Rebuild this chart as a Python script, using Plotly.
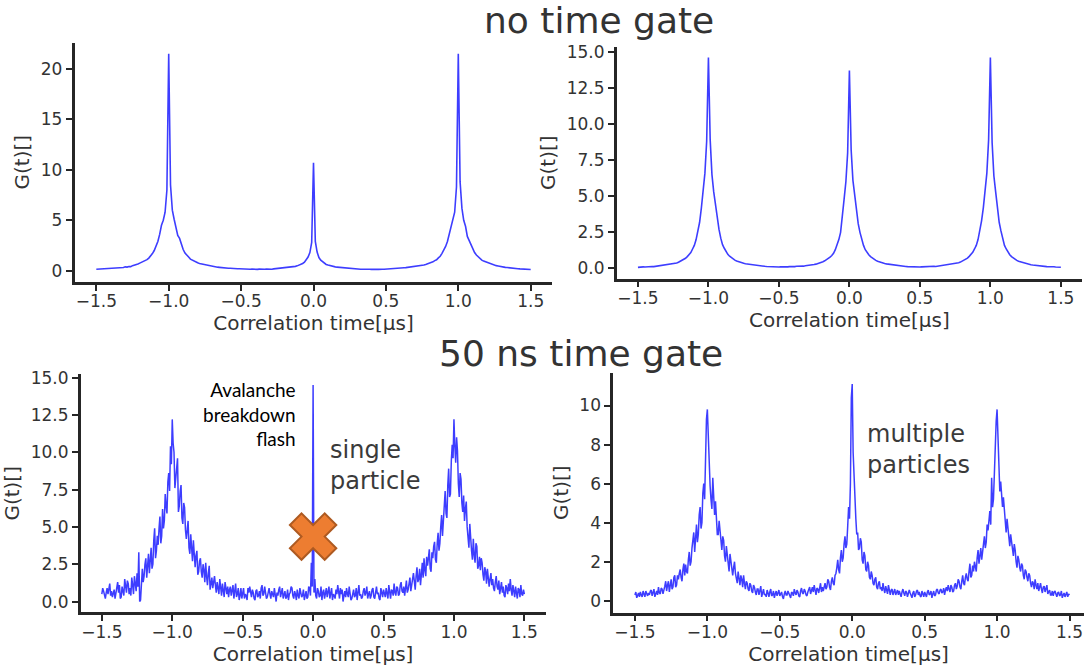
import numpy as np
import plotly.graph_objects as go

W, H = 1086, 669

# correlation time grids in microseconds
t_us = np.round(-1.5 + 0.0125 * np.arange(241), 4)      # 12.5 ns bins (no gate)
t_fine = np.round(-1.5 + 0.00625 * np.arange(481), 5)   # 6.25 ns bins (50 ns gate)

# ---- no time gate, left panel ----
g_nogate_left = [
    0.15, 0.16, 0.14, 0.18, 0.17, 0.2, 0.19, 0.22,
    0.25, 0.23, 0.27, 0.26, 0.3, 0.28, 0.33, 0.31,
    0.38, 0.36, 0.42, 0.4, 0.5, 0.53, 0.6, 0.66,
    0.75, 0.82, 0.9, 0.98, 1.1, 1.25, 1.45, 1.7,
    2.0, 2.4, 2.9, 3.6, 4.5, 5.0, 5.8, 8.0,
    21.5, 8.5, 6.0, 5.1, 4.3, 3.5, 3.2, 2.6,
    2.1, 1.75, 1.5, 1.35, 1.15, 1.05, 0.92, 0.85,
    0.78, 0.72, 0.68, 0.6, 0.56, 0.52, 0.5, 0.45,
    0.42, 0.4, 0.37, 0.35, 0.33, 0.3, 0.31, 0.27,
    0.26, 0.24, 0.25, 0.22, 0.2, 0.22, 0.19, 0.2,
    0.18, 0.16, 0.19, 0.15, 0.17, 0.14, 0.16, 0.13,
    0.15, 0.13, 0.16, 0.14, 0.12, 0.15, 0.16, 0.14,
    0.17, 0.15, 0.18, 0.2, 0.19, 0.22, 0.21, 0.25,
    0.27, 0.3, 0.29, 0.33, 0.36, 0.4, 0.43, 0.48,
    0.55, 0.62, 0.72, 0.85, 1.05, 1.35, 1.8, 2.8,
    10.7, 2.9, 1.85, 1.3, 1.05, 0.88, 0.75, 0.62,
    0.56, 0.5, 0.45, 0.41, 0.38, 0.35, 0.33, 0.3,
    0.28, 0.26, 0.24, 0.23, 0.2, 0.21, 0.18, 0.19,
    0.16, 0.17, 0.14, 0.15, 0.13, 0.15, 0.12, 0.14,
    0.13, 0.15, 0.12, 0.14, 0.13, 0.11, 0.14, 0.15,
    0.17, 0.19, 0.18, 0.21, 0.2, 0.23, 0.22, 0.25,
    0.27, 0.28, 0.3, 0.31, 0.33, 0.34, 0.36, 0.38,
    0.4, 0.42, 0.45, 0.48, 0.52, 0.56, 0.62, 0.68,
    0.74, 0.83, 0.88, 1.0, 1.08, 1.27, 1.43, 1.72,
    2.0, 2.4, 2.9, 3.6, 4.5, 5.0, 5.8, 8.3,
    21.5, 8.8, 6.2, 5.0, 4.4, 3.4, 3.0, 2.5,
    2.1, 1.8, 1.55, 1.35, 1.2, 1.05, 0.95, 0.88,
    0.8, 0.72, 0.66, 0.6, 0.55, 0.5, 0.47, 0.42,
    0.4, 0.36, 0.33, 0.31, 0.28, 0.26, 0.24, 0.23,
    0.21, 0.2, 0.18, 0.17, 0.16, 0.15, 0.14, 0.13,
    0.12,
]

# ---- no time gate, right panel ----
g_nogate_right = [
    0.08, 0.1, 0.09, 0.11, 0.1, 0.12, 0.11, 0.13,
    0.14, 0.13, 0.15, 0.16, 0.15, 0.18, 0.19, 0.2,
    0.23, 0.24, 0.26, 0.29, 0.31, 0.35, 0.38, 0.43,
    0.5, 0.55, 0.62, 0.71, 0.82, 0.95, 1.1, 1.35,
    1.6, 2.0, 2.6, 3.2, 4.2, 5.4, 6.6, 8.8,
    14.6, 8.9, 6.5, 5.3, 4.3, 3.3, 2.7, 2.1,
    1.65, 1.4, 1.15, 0.98, 0.85, 0.74, 0.65, 0.58,
    0.52, 0.47, 0.43, 0.4, 0.36, 0.33, 0.31, 0.28,
    0.26, 0.24, 0.22, 0.21, 0.19, 0.18, 0.17, 0.16,
    0.15, 0.14, 0.13, 0.14, 0.12, 0.13, 0.11, 0.12,
    0.1, 0.12, 0.11, 0.1, 0.12, 0.11, 0.13, 0.12,
    0.14, 0.13, 0.15, 0.14, 0.16, 0.17, 0.16, 0.19,
    0.2, 0.22, 0.21, 0.25, 0.27, 0.3, 0.33, 0.37,
    0.42, 0.47, 0.53, 0.6, 0.68, 0.78, 0.9, 1.05,
    1.3, 1.6, 2.0, 2.5, 3.5, 4.8, 6.0, 8.0,
    13.7, 8.2, 6.1, 5.0, 4.0, 3.1, 2.5, 2.0,
    1.6, 1.3, 1.1, 0.95, 0.82, 0.72, 0.63, 0.56,
    0.5, 0.45, 0.41, 0.38, 0.35, 0.32, 0.3, 0.27,
    0.25, 0.23, 0.22, 0.2, 0.19, 0.17, 0.16, 0.15,
    0.14, 0.13, 0.12, 0.13, 0.11, 0.12, 0.1, 0.11,
    0.1, 0.11, 0.12, 0.1, 0.12, 0.13, 0.12, 0.14,
    0.15, 0.14, 0.16, 0.17, 0.16, 0.19, 0.2, 0.21,
    0.23, 0.25, 0.27, 0.3, 0.32, 0.36, 0.4, 0.44,
    0.5, 0.56, 0.63, 0.72, 0.84, 0.97, 1.12, 1.35,
    1.6, 2.0, 2.6, 3.3, 4.2, 5.4, 6.6, 8.9,
    14.6, 8.7, 6.4, 5.3, 4.2, 3.2, 2.6, 2.0,
    1.6, 1.35, 1.1, 0.95, 0.82, 0.72, 0.63, 0.56,
    0.5, 0.46, 0.41, 0.38, 0.34, 0.31, 0.29, 0.26,
    0.24, 0.22, 0.2, 0.19, 0.17, 0.16, 0.15, 0.14,
    0.13, 0.12, 0.13, 0.11, 0.12, 0.1, 0.11, 0.1,
    0.09,
]

# ---- 50 ns time gate, single particle ----
g_gate_single = [
    0.5, 0.9, 0.7, 0.3, 0.2, 0.6, 0.9, 0.5, 1.0, 1.2, 0.4, 0.7, 0.3, 0.6, 0.8, 0.2,
    0.5, 0.9, 1.3, 0.6, 1.1, 0.2, 0.3, 1.0, 0.7, 0.4, 1.5, 0.9, 0.6, 1.4, 1.2, 0.5,
    0.9, 0.4, 1.6, 1.1, 0.5, 1.7, 1.2, 0.7, 1.9, 1.0, 3.3, 0.0, 0.1, 1.4, 2.2, 1.3,
    1.7, 2.5, 2.9, 1.6, 2.6, 3.2, 1.9, 2.8, 3.6, 2.2, 2.5, 4.1, 4.9, 2.9, 3.4, 4.4,
    3.8, 4.9, 5.7, 3.9, 4.4, 6.2, 4.9, 5.4, 7.2, 6.4, 5.9, 8.0, 8.6, 7.4, 10.4, 9.2,
    12.2, 10.6, 10.0, 7.6, 8.4, 8.9, 9.6, 6.0, 6.4, 7.4, 7.8, 5.6, 5.2, 6.6, 6.3, 4.8,
    4.2, 4.8, 5.4, 3.6, 3.2, 4.5, 3.8, 2.7, 4.1, 3.0, 2.3, 3.1, 3.4, 1.8, 2.0, 2.7,
    2.9, 2.0, 1.6, 2.5, 2.1, 1.3, 2.6, 1.7, 1.1, 1.9, 2.4, 0.8, 1.3, 1.6, 0.9, 1.4,
    1.7, 1.1, 0.6, 1.3, 1.0, 0.5, 1.5, 0.9, 0.4, 1.2, 0.8, 0.3, 1.3, 0.7, 0.5, 1.0,
    0.3, 0.8, 1.0, 0.4, 0.7, 1.1, 0.2, 0.6, 1.2, 0.3, 0.5, 0.9, 0.1, 0.4, 0.9, 0.2,
    0.6, 0.9, 0.2, 0.5, 0.4, 0.1, 0.9, 0.6, 1.0, 0.4, 0.3, 0.8, 0.6, 0.2, 0.1, 0.7,
    0.8, 0.3, 0.4, 0.7, 0.2, 0.9, 1.1, 0.4, 0.5, 1.0, 0.7, 0.2, 0.3, 0.6, 0.9, 0.5,
    0.2, 0.7, 0.5, 0.3, 0.9, 0.5, 0.0, 0.6, 0.4, 0.8, 1.0, 0.3, 0.6, 0.9, 0.2, 0.4,
    0.7, 0.2, 0.3, 0.8, 0.1, 0.5, 0.6, 1.0, 0.9, 0.4, 0.2, 0.7, 0.5, 0.1, 0.8, 0.4,
    0.2, 0.9, 0.6, 0.3, 0.4, 0.8, 0.1, 0.5, 0.7, 0.2, 0.3, 1.0, 0.9, 0.4, 2.6, 1.0,
    14.5, 0.6, 1.5, 0.4, 0.2, 0.9, 0.7, 0.3, 0.4, 1.0, 0.1, 0.6, 0.8, 0.2, 0.5, 0.9,
    0.3, 0.6, 1.0, 0.2, 0.6, 0.9, 0.1, 0.5, 0.4, 0.2, 0.8, 0.5, 1.1, 0.7, 0.2, 0.9,
    0.5, 0.8, 0.0, 0.4, 0.7, 0.3, 0.9, 0.5, 0.3, 1.0, 0.6, 0.1, 0.2, 0.7, 0.8, 0.3,
    0.4, 0.9, 0.1, 0.6, 1.1, 0.4, 0.5, 0.2, 0.3, 0.7, 0.9, 0.4, 0.6, 1.0, 0.2, 0.5,
    0.7, 0.2, 0.4, 0.8, 0.9, 0.3, 0.2, 0.6, 1.0, 0.5, 0.6, 0.2, 0.1, 0.9, 0.5, 0.3,
    0.8, 0.5, 0.3, 0.9, 0.5, 0.2, 1.1, 0.6, 0.2, 0.8, 0.7, 0.4, 1.2, 0.6, 0.4, 1.0,
    0.9, 0.4, 0.5, 1.1, 1.3, 0.7, 0.6, 1.0, 0.4, 0.9, 1.4, 0.6, 0.8, 1.2, 1.6, 0.7,
    1.0, 1.5, 1.9, 1.2, 0.8, 1.7, 2.3, 1.3, 1.5, 2.2, 1.1, 1.8, 2.6, 1.6, 2.9, 2.1,
    1.7, 3.0, 2.4, 2.9, 3.5, 2.2, 2.0, 3.3, 2.9, 3.7, 4.0, 2.8, 2.6, 3.9, 4.6, 3.4,
    3.9, 5.0, 5.8, 4.4, 5.2, 6.5, 7.4, 5.9, 5.6, 7.8, 8.9, 7.0, 7.2, 9.4, 10.5, 9.6,
    12.2, 10.4, 9.3, 11.0, 10.1, 7.9, 7.0, 8.6, 8.2, 6.6, 6.0, 7.1, 5.4, 6.2, 6.7, 5.0,
    4.5, 3.6, 5.2, 4.0, 3.4, 2.8, 4.2, 3.1, 2.6, 3.9, 3.7, 2.2, 2.4, 3.0, 2.1, 2.9,
    2.6, 1.8, 1.4, 2.3, 2.0, 1.2, 2.2, 1.6, 1.0, 1.5, 1.9, 1.1, 1.5, 0.9, 0.7, 1.3,
    1.7, 1.0, 0.8, 1.4, 0.5, 0.9, 1.3, 0.6, 1.0, 0.4, 0.3, 1.1, 0.9, 0.5, 1.2, 0.7,
    1.5, 0.8, 0.4, 1.1, 0.7, 0.3, 1.0, 0.6, 0.2, 0.9, 0.8, 0.3, 1.1, 0.5, 0.4, 0.8,
    0.5,
]

# ---- 50 ns time gate, multiple particles ----
g_gate_multi = [
    0.3, 0.45, 0.15, 0.3, 0.4, 0.2, 0.45, 0.3, 0.2, 0.5, 0.35, 0.2, 0.5, 0.3, 0.25, 0.4,
    0.3, 0.5, 0.55, 0.25, 0.4, 0.6, 0.2, 0.45, 0.5, 0.3, 0.7, 0.4, 0.35, 0.65, 0.6, 0.35,
    0.5, 0.75, 1.0, 0.5, 0.8, 1.0, 0.45, 0.9, 1.1, 0.6, 0.7, 1.2, 1.3, 0.7, 0.8, 1.3,
    1.1, 1.4, 1.6, 1.2, 1.0, 1.6, 1.9, 1.3, 1.85, 1.5, 1.4, 2.1, 2.5, 1.8, 2.0, 2.7,
    3.0, 3.5, 2.5, 3.2, 3.9, 3.0, 3.4, 4.4, 4.8, 3.7, 4.0, 5.5, 6.0, 5.2, 8.6, 9.3,
    9.8, 8.0, 7.2, 5.9, 5.2, 4.7, 6.3, 5.0, 4.4, 5.1, 4.0, 3.4, 3.4, 4.1, 3.6, 2.9,
    2.6, 3.3, 3.1, 2.3, 2.0, 2.8, 2.4, 1.8, 1.5, 2.4, 2.1, 1.6, 1.3, 1.7, 2.0, 1.4,
    1.2, 0.9, 1.5, 1.1, 0.8, 1.3, 1.1, 0.7, 1.3, 0.9, 0.6, 1.0, 0.9, 0.6, 0.5, 0.9,
    0.8, 0.5, 0.4, 0.8, 0.7, 0.45, 0.3, 0.6, 0.6, 0.3, 0.5, 0.75, 0.2, 0.4, 0.6, 0.3,
    0.35, 0.2, 0.55, 0.4, 0.2, 0.45, 0.6, 0.25, 0.3, 0.5, 0.15, 0.35, 0.5, 0.25, 0.4, 0.55,
    0.25, 0.4, 0.45, 0.2, 0.1, 0.35, 0.5, 0.3, 0.3, 0.5, 0.35, 0.2, 0.15, 0.45, 0.4, 0.25,
    0.6, 0.4, 0.3, 0.55, 0.45, 0.25, 0.2, 0.5, 0.65, 0.4, 0.35, 0.6, 0.5, 0.3, 0.25, 0.45,
    0.55, 0.7, 0.35, 0.5, 0.7, 0.45, 0.8, 0.55, 0.3, 0.65, 0.6, 0.4, 0.75, 0.9, 0.45, 0.7,
    0.5, 0.8, 0.9, 0.6, 0.7, 1.1, 1.0, 0.7, 0.55, 1.0, 1.2, 0.9, 0.8, 1.3, 1.4, 1.7,
    2.1, 1.6, 1.4, 2.2, 2.6, 2.0, 2.2, 2.9, 3.3, 2.7, 2.9, 3.8, 4.8, 4.2, 6.0, 10.4,
    11.1, 7.6, 6.4, 4.8, 4.2, 3.4, 3.5, 2.6, 2.7, 3.2, 3.0, 2.1, 1.9, 2.5, 2.3, 1.6,
    1.5, 2.0, 1.8, 1.2, 1.1, 1.5, 1.3, 0.9, 0.8, 1.1, 1.2, 0.7, 0.6, 0.9, 1.0, 0.6,
    0.7, 0.5, 0.9, 0.6, 0.4, 0.75, 0.5, 0.35, 0.8, 0.5, 0.3, 0.55, 0.6, 0.3, 0.45, 0.6,
    0.3, 0.45, 0.55, 0.3, 0.5, 0.35, 0.2, 0.45, 0.6, 0.4, 0.25, 0.5, 0.45, 0.2, 0.35, 0.55,
    0.4, 0.25, 0.15, 0.4, 0.5, 0.2, 0.3, 0.5, 0.55, 0.3, 0.45, 0.25, 0.2, 0.5, 0.35, 0.2,
    0.45, 0.3, 0.2, 0.45, 0.55, 0.3, 0.35, 0.5, 0.15, 0.35, 0.5, 0.25, 0.3, 0.55, 0.6, 0.4,
    0.35, 0.55, 0.6, 0.4, 0.45, 0.65, 0.3, 0.55, 0.7, 0.5, 0.8, 0.6, 0.45, 0.8, 0.7, 0.45,
    0.5, 0.8, 0.9, 0.6, 0.75, 1.1, 1.0, 0.7, 0.6, 1.0, 1.3, 0.9, 0.8, 1.2, 1.4, 1.1,
    1.0, 1.5, 1.9, 1.2, 1.3, 1.8, 1.5, 2.0, 1.7, 1.5, 2.2, 2.6, 1.9, 2.3, 2.7, 2.1,
    2.4, 2.9, 3.3, 2.7, 3.0, 3.9, 3.6, 4.1, 4.6, 3.9, 6.3, 4.8, 5.2, 6.5, 8.4, 9.2,
    9.8, 8.3, 7.0, 5.6, 6.1, 5.2, 4.8, 5.3, 4.6, 3.9, 3.5, 4.2, 3.8, 3.1, 2.8, 3.4,
    3.0, 2.6, 2.3, 2.9, 2.6, 2.0, 1.7, 2.3, 2.1, 1.7, 1.5, 1.9, 1.8, 1.3, 1.1, 1.6,
    1.5, 1.2, 1.0, 1.4, 1.3, 0.9, 0.7, 1.0, 0.9, 0.6, 1.1, 0.8, 0.6, 0.9, 0.5, 0.7,
    0.9, 0.6, 0.4, 0.7, 0.75, 0.45, 0.6, 0.8, 0.35, 0.5, 0.55, 0.3, 0.3, 0.5, 0.25, 0.45,
    0.5, 0.35, 0.2, 0.4, 0.45, 0.25, 0.3, 0.5, 0.15, 0.3, 0.4, 0.2, 0.35, 0.45, 0.2, 0.35,
    0.3,
]

assert len(g_nogate_left) == len(t_us), len(g_nogate_left)
assert len(g_nogate_right) == len(t_us), len(g_nogate_right)
assert len(g_gate_single) == len(t_fine), len(g_gate_single)
assert len(g_gate_multi) == len(t_fine), len(g_gate_multi)

# tick labels
x_tickvals = [-1.5, -1.0, -0.5, 0.0, 0.5, 1.0, 1.5]
x_ticktext = ["\u22121.5", "\u22121.0", "\u22120.5", "0.0", "0.5", "1.0", "1.5"]
y1_tickvals = [0, 5, 10, 15, 20]
y1_ticktext = ["0", "5", "10", "15", "20"]
y2_tickvals = [0, 2.5, 5, 7.5, 10, 12.5, 15]
y2_ticktext = ["0.0", "2.5", "5.0", "7.5", "10.0", "12.5", "15.0"]
y4_tickvals = [0, 2, 4, 6, 8, 10]
y4_ticktext = ["0", "2", "4", "6", "8", "10"]

# avalanche flash marker position (x in µs, y in G units)
flash_x = [0.0]
flash_y = [4.35]

x_title = "Correlation time[\u00b5s]"
y_title = "G(t)[]"

FONT = "DejaVu Sans"
TXT = "#333333"
AX = "#262626"
LINE = "rgba(0,0,255,0.76)"

# panel geometry in pixels (left, right) / (top, bottom)
panels = [
    dict(t=t_us, vals=g_nogate_left, xpx=(74.6, 552.4), ypx=(42.7, 281.7),
         xr=[-1.65, 1.65], yr=[-1.09, 22.6], yt=(y1_tickvals, y1_ticktext), lw=1.6),
    dict(t=t_us, vals=g_nogate_right, xpx=(616.8, 1082.0), ypx=(46.7, 278.6),
         xr=[-1.65, 1.65], yr=[-0.7, 15.35], yt=(y2_tickvals, y2_ticktext), lw=1.6),
    dict(t=t_fine, vals=g_gate_single, xpx=(80.7, 545.5), ypx=(374.3, 612.3),
         xr=[-1.65, 1.65], yr=[-0.72, 15.22], yt=(y2_tickvals, y2_ticktext), lw=1.5),
    dict(t=t_fine, vals=g_gate_multi, xpx=(613.2, 1084.0), ypx=(372.7, 612.5),
         xr=[-1.65, 1.6], yr=[-0.6, 11.68], yt=(y4_tickvals, y4_ticktext), lw=1.5),
]

fig = go.Figure()
layout = dict(
    width=W, height=H, margin=dict(l=0, r=0, t=0, b=0),
    paper_bgcolor="white", plot_bgcolor="white", showlegend=False,
    template="none",
)

for i, p in enumerate(panels, start=1):
    fig.add_trace(go.Scatter(
        x=p["t"], y=p["vals"], mode="lines",
        line=dict(color=LINE, width=p["lw"]),
        xaxis=f"x{i}", yaxis=f"y{i}", hoverinfo="skip", showlegend=False,
    ))
    x0, x1 = p["xpx"]
    yt, yb = p["ypx"]
    layout[f"xaxis{i}"] = dict(
        domain=[x0 / W, x1 / W], range=p["xr"], anchor=f"y{i}",
        tickvals=x_tickvals, ticktext=x_ticktext,
        ticks="outside", ticklen=6, tickwidth=1.5, tickcolor=AX,
        ticklabelstandoff=-4,
        showline=True, linewidth=2.6, linecolor=AX,
        showgrid=False, zeroline=False, automargin=False,
        tickfont=dict(family=FONT, size=17, color=TXT),
        title=dict(text=x_title, font=dict(family=FONT, size=20, color=TXT), standoff=6),
    )
    layout[f"yaxis{i}"] = dict(
        domain=[1 - yb / H, 1 - yt / H], range=p["yr"], anchor=f"x{i}",
        tickvals=p["yt"][0], ticktext=p["yt"][1],
        ticks="outside", ticklen=6, tickwidth=1.5, tickcolor=AX,
        showline=True, linewidth=2.6, linecolor=AX,
        showgrid=False, zeroline=False, automargin=False,
        tickfont=dict(family=FONT, size=17, color=TXT),
        title=dict(text=y_title, font=dict(family=FONT, size=20, color=TXT), standoff=6),
    )

# orange cross over the avalanche-breakdown spike
fig.add_trace(go.Scatter(
    x=flash_x, y=flash_y, mode="markers", xaxis="x3", yaxis="y3",
    marker=dict(symbol="x", size=41, color="#ED7D31",
                line=dict(color="#AE5A21", width=2)),
    hoverinfo="skip", showlegend=False, cliponaxis=False,
))

annotations = [
    dict(text="no time gate", x=599 / W, y=1 - 20.5 / H, xref="paper", yref="paper",
         xanchor="center", yanchor="middle", showarrow=False,
         font=dict(family=FONT, size=36, color=TXT)),
    dict(text="50 ns time gate", x=581 / W, y=1 - 353.2 / H, xref="paper", yref="paper",
         xanchor="center", yanchor="middle", showarrow=False,
         font=dict(family=FONT, size=36, color=TXT)),
    dict(text="single<br>particle", x=327.5 / W, y=1 - 465 / H, xref="paper", yref="paper",
         xanchor="left", yanchor="middle", align="left", showarrow=False,
         font=dict(family=FONT, size=24, color="#3a3a3a")),
    dict(text="multiple<br>particles", x=864.6 / W, y=1 - 449 / H, xref="paper", yref="paper",
         xanchor="left", yanchor="middle", align="left", showarrow=False,
         font=dict(family=FONT, size=24, color="#3a3a3a")),
    dict(text="Avalanche<br>breakdown<br>flash", x=298 / W, y=1 - 414.4 / H, xref="paper", yref="paper",
         xanchor="right", yanchor="middle", align="right", showarrow=False,
         font=dict(family="Lato", size=19, color="black")),
]
layout["annotations"] = annotations

fig.update_layout(**layout)
fig.write_html("out.html", config={"displayModeBar": False},
               post_script="document.body.style.margin='0';")
